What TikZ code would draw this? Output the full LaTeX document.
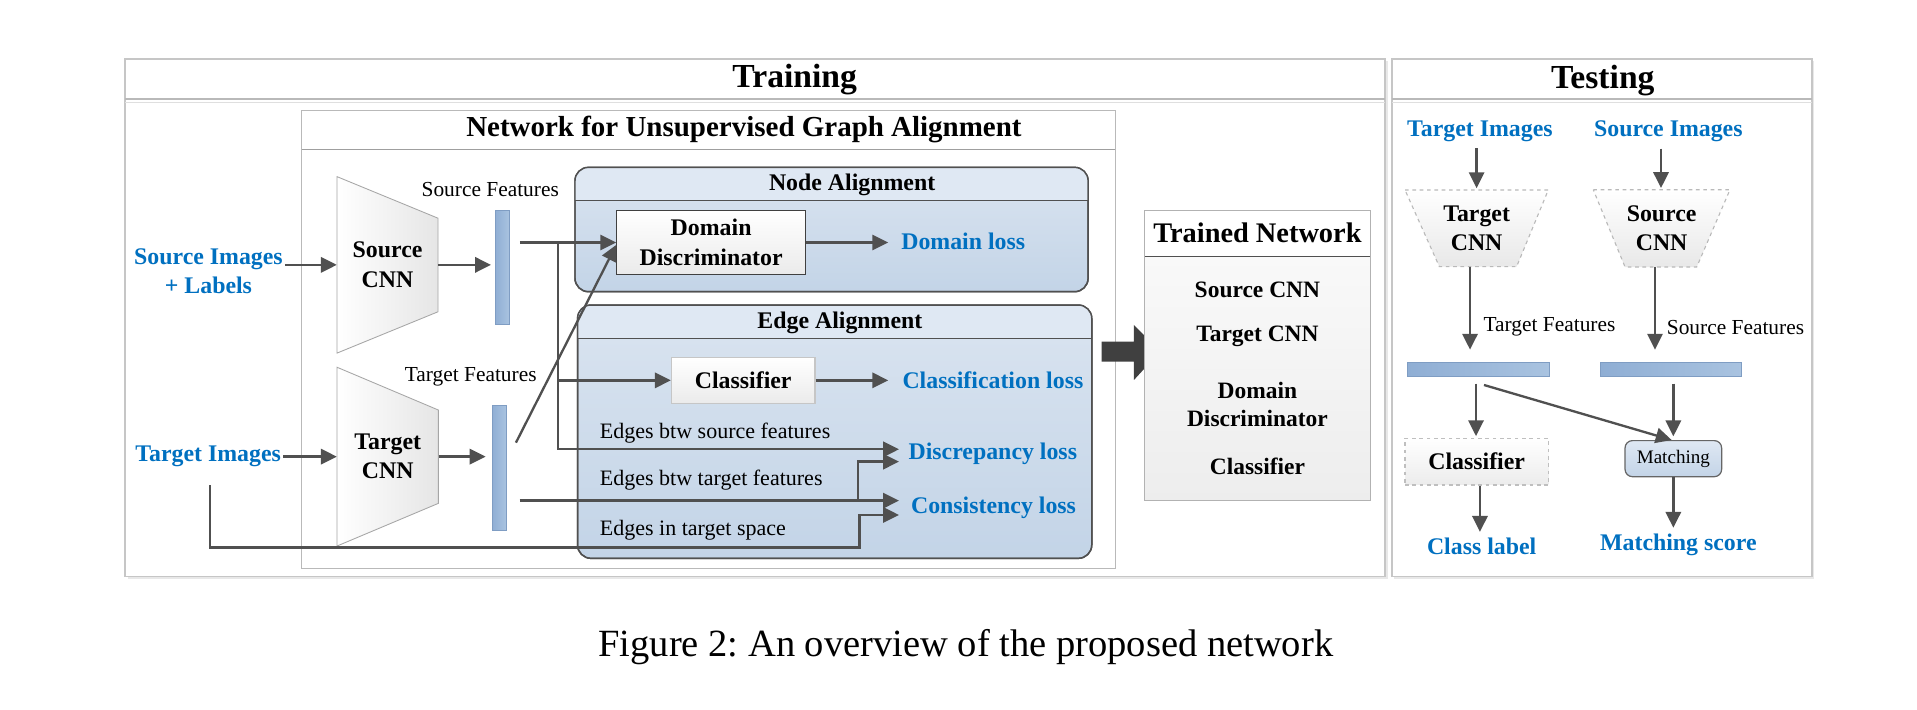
\documentclass[tikz,border=0pt]{standalone}
\usepackage{fontspec}
\setmainfont{Liberation Serif}
\usetikzlibrary{arrows.meta,calc}
\definecolor{lc}{HTML}{505050}
\definecolor{blu}{HTML}{0070C0}
\definecolor{barL}{HTML}{8FAED4}
\definecolor{barR}{HTML}{A9C3E0}
\definecolor{barB}{HTML}{7F9DC3}
\definecolor{panA}{HTML}{DAE4F0}
\definecolor{panB}{HTML}{C3D4E7}
\definecolor{panT}{HTML}{DFE8F3}
\tikzset{
  arr/.style={draw=lc, line width=1.9pt, -{Triangle[length=13pt,width=12.5pt]}},
  bf/.style={font=\fontsize{19.5}{24}\selectfont\bfseries, align=center, inner sep=0pt},
  bl/.style={bf, text=blu},
  rg/.style={font=\fontsize{17.5}{21}\selectfont, inner sep=0pt},
  eg/.style={font=\fontsize{18}{22}\selectfont, inner sep=0pt, anchor=west},
  ttl/.style={font=\fontsize{27.5}{32}\selectfont\bfseries, inner sep=0pt},
  outerbox/.style={draw=gray!45, line width=1.5pt, fill=white, inner sep=0pt},
  panel/.style={draw=lc, line width=1.2pt, rounded corners=11pt, top color=panA, bottom color=panB, inner sep=0pt},
  whbox/.style={top color=white, bottom color=gray!16, inner sep=0pt, line width=1pt},
  bar/.style={draw=barB, line width=0.6pt, left color=barL, right color=barR, inner sep=0pt},
  trap/.style={draw=gray!70, line width=0.7pt, left color=white, right color=gray!20},
  dtrap/.style={draw=gray!55, line width=0.9pt, dashed, top color=white, bottom color=gray!18},
  frm/.style={inner sep=0pt, draw=none},
}
\frenchspacing
\begin{document}
\begin{tikzpicture}[x=1pt,y=-1pt]
\useasboundingbox (0,0) rectangle (1568,580);
\fill[white] (0,0) rectangle (1568,580);

% ---------- outer panels ----------
\fill[gray!18] (104.5,50) rectangle (1135,473.5);
\node[outerbox, minimum width=1030.5pt, minimum height=423.5pt] (train) at (617.75,259.75) {};
\draw[gray!55, line width=1.5pt] (102.5,81) -- (1133,81);
\draw[gray!25, line width=1.2pt] (102.5,84) -- (1133,84);
\node[ttl] (traint) at (650,65) {Training};

\fill[gray!18] (1140.5,50) rectangle (1483.8,473.5);
\node[outerbox, minimum width=343.3pt, minimum height=423.5pt] (test) at (1310.15,259.75) {};
\draw[gray!55, line width=1.5pt] (1138.5,81) -- (1481.8,81);
\draw[gray!25, line width=1.2pt] (1138.5,84) -- (1481.8,84);
\node[ttl] (testt) at (1311,65.5) {Testing};

% ---------- network box ----------
\node[draw=gray!55, line width=0.8pt, fill=white, minimum width=665pt, minimum height=375pt, inner sep=0pt] (net) at (579.5,277.5) {};
\draw[gray!75, line width=1pt] (247,122) -- (912,122);
\node[font=\fontsize{23.7}{28}\selectfont\bfseries, inner sep=0pt] (nett) at (608.5,106) {Network for Unsupervised Graph Alignment};

% ---------- node alignment panel ----------
\node[panel, minimum width=419.7pt, minimum height=101.7pt] (na) at (680.15,187.75) {};
\begin{scope}
\clip[rounded corners=11pt] (470.3,136.9) rectangle (890,238.6);
\fill[panT] (470.3,136.9) rectangle (890,164.2);
\end{scope}
\draw[lc, line width=1.2pt, rounded corners=11pt] (470.3,136.9) rectangle (890,238.6);
\draw[lc, line width=1pt] (470.3,164.2) -- (890,164.2);
\node[bf] (nat) at (697,151.3) {Node Alignment};

% ---------- edge alignment panel ----------
\node[panel, minimum width=420.6pt, minimum height=207.2pt] (ea) at (682.7,353.1) {};
\begin{scope}
\clip[rounded corners=11pt] (472.4,249.5) rectangle (893,456.7);
\fill[panT] (472.4,249.5) rectangle (893,276.7);
\end{scope}
\draw[lc, line width=1.2pt, rounded corners=11pt] (472.4,249.5) rectangle (893,456.7);
\draw[lc, line width=1pt] (472.4,276.7) -- (893,276.7);
\node[bf] (eat) at (687,264) {Edge Alignment};

% ---------- CNN trapezoids (training) ----------
\path[trap] (275.7,144.5) -- (358.3,178.5) -- (358.3,255) -- (275.7,288.8) -- cycle;
\node[frm, bf, minimum width=82.6pt, minimum height=144.3pt] (scnn) at (317,216.65) {Source\\CNN};
\path[trap] (275.7,300.4) -- (358.6,335.4) -- (358.6,411.7) -- (275.7,446.6) -- cycle;
\node[frm, bf, minimum width=82.9pt, minimum height=146.2pt] (tcnn) at (317.15,373.5) {Target\\CNN};

% ---------- feature bars ----------
\node[bar, minimum width=11.7pt, minimum height=93pt] (sbar) at (410.75,218.75) {};
\node[bar, minimum width=11.4pt, minimum height=102.7pt] (tbar) at (408.2,382.65) {};
\node[rg] (sfl) at (401,155) {Source Features};
\node[rg] (tfl) at (385,308) {Target Features};

% ---------- inputs ----------
\node[bl] (simg) at (170.5,222) {Source Images\\+ Labels};
\node[bl] (timg) at (170.3,373.5) {Target Images};

% ---------- boxes ----------
\node[whbox, draw=black!75, minimum width=154.3pt, minimum height=52.1pt, bf] (dd) at (581.65,198.35) {Domain\\Discriminator};
\node[whbox, draw=gray!45, minimum width=117.4pt, minimum height=37.6pt, bf] (cls) at (607.9,311.1) {Classifier};

% ---------- losses ----------
\node[bl, anchor=west] (dloss) at (737,197.5) {Domain loss};
\node[bl, anchor=west] (closs) at (738,311) {Classification loss};
\node[bl, anchor=west] (disc) at (743,371) {Discrepancy loss};
\node[bl, anchor=west] (cons) at (745,415) {Consistency loss};

% ---------- edge labels ----------
\node[eg] (e1) at (490.5,354.4) {Edges btw source features};
\node[eg] (e2) at (490.5,392.6) {Edges btw target features};
\node[eg] (e3) at (490.5,433.5) {Edges in target space};

% ---------- connectors (training) ----------
\draw[arr, shorten <=1.5pt] (simg.east |- scnn.west) -- (scnn.west);
\draw[arr, shorten >=3pt] (scnn.east) -- (sbar.west |- scnn.east);
\draw[arr, shorten <=1.5pt] (timg.east |- tcnn.west) -- (tcnn.west);
\draw[arr, shorten >=5pt] (tcnn.east) -- (tbar.west |- tcnn.east);

\coordinate (sfo) at (425.3,198.35);
\coordinate (sbr) at (456.5,198.35);
\coordinate (d1) at (735.3,367.5);
\coordinate (d2) at (735.3,377.6);
\coordinate (c1) at (735.3,409.5);
\coordinate (c2) at (735.3,421.2);
\coordinate (tfo) at (422,362.1);
\coordinate (tfo2) at (425,409.5);
\coordinate (tbr) at (701.7,409.5);
\coordinate (tio) at (171.8,397);
\coordinate (tcorner) at (703,447.7);

\draw[arr] (sfo) -- (dd.west);
\draw[arr] (sbr) |- (cls.west);
\draw[arr] (sbr) |- (d1);
\draw[arr] (tfo) -- ([yshift=-2pt]dd.west);
\draw[arr] (tfo2) -- (c1);
\draw[arr] (tbr) |- (d2);
\draw[arr] (tio) |- (tcorner) |- (c2);
\draw[arr] (dd.east) -- ([xshift=-10.5pt]dloss.west |- dd.east);
\draw[arr] (cls.east) -- ([xshift=-11.5pt]closs.west |- cls.east);

% ---------- big arrow ----------
\path[fill=black!75] (901,279.5) -- (927.5,279.5) -- (927.5,265.8) -- (948.8,287.6) -- (927.5,310.8) -- (927.5,295.8) -- (901,295.8) -- cycle;

% ---------- trained network ----------
\node[draw=gray!60, line width=0.8pt, top color=gray!3, bottom color=gray!14, minimum width=184.1pt, minimum height=237.2pt, inner sep=0pt] (trained) at (1028.55,290.4) {};
\fill[white] (936.9,172.2) rectangle (1120.2,210);
\draw[lc, line width=0.8pt] (936.5,210) -- (1120.6,210);
\node[font=\fontsize{23.2}{27}\selectfont\bfseries, inner sep=0pt] (trt) at (1028.5,190.8) {Trained Network};
\node[bf, font=\fontsize{19.2}{23.2}\selectfont\bfseries] (tr1) at (1028.5,236.7) {Source CNN};
\node[bf, font=\fontsize{19.2}{23.2}\selectfont\bfseries] (tr2) at (1028.5,275.4) {Target CNN};
\node[bf, font=\fontsize{19.2}{23.2}\selectfont\bfseries] (tr3) at (1028.5,330.6) {Domain\\Discriminator};
\node[bf, font=\fontsize{19.2}{23.2}\selectfont\bfseries] (tr4) at (1028.5,381.7) {Classifier};

% ---------- testing ----------
\node[bl] (timg2) at (1210.5,107.7) {Target Images};
\node[bl] (simg2) at (1364.6,107.7) {Source Images};

\path[dtrap] (1149.2,155.4) -- (1266.4,155.4) -- (1240.5,218.1) -- (1177.3,218.1) -- cycle;
\node[frm, bf, minimum width=117.2pt, minimum height=62.7pt] (tcnn2) at (1207.8,186.75) {Target\\CNN};
\path[dtrap] (1303.2,155.2) -- (1415,155.2) -- (1387.8,218.4) -- (1329.2,218.4) -- cycle;
\node[frm, bf, minimum width=111.8pt, minimum height=63.2pt] (scnn2) at (1359.1,186.8) {Source\\CNN};

\node[bar, minimum width=116.1pt, minimum height=11.5pt] (tbar2) at (1209.15,302.35) {};
\node[bar, minimum width=115.8pt, minimum height=11.5pt] (sbar2) at (1366.6,302.35) {};
\node[rg, anchor=west] (tfl2) at (1213.3,267.2) {Target Features};
\node[rg, anchor=west] (sfl2) at (1363.2,267.5) {Source Features};

\node[dashed, draw=gray!50, line width=0.9pt, top color=white, bottom color=gray!15, minimum width=117.2pt, minimum height=38.2pt, bf] (cls2) at (1207.8,377.6) {Classifier};
\node[draw=gray!80!black, line width=1pt, rounded corners=6pt, top color=panT, bottom color=panB, minimum width=79pt, minimum height=29.5pt, inner sep=0pt, font=\fontsize{15.6}{18}\selectfont] (match) at (1368.7,375.15) {Matching};

\node[bl] (clabel) at (1211.9,447.1) {Class label};
\node[bl] (mscore) at (1372.8,445.8) {Matching score};

\coordinate (tb2o) at (1213.8,314.9);
\draw[arr, shorten <=5pt, shorten >=1.3pt] (tcnn2.north |- timg2.south) -- (tcnn2.north);
\draw[arr, shorten <=5pt, shorten >=1.2pt] ([xshift=-0.5pt]scnn2.north |- simg2.south) -- ([xshift=-0.5pt]scnn2.north);
\draw[arr, shorten >=10.3pt] ([xshift=-5.4pt]tcnn2.south) -- ([xshift=-5.4pt]tcnn2.south |- tbar2.north);
\draw[arr, shorten >=10.3pt] ([xshift=-5.4pt]scnn2.south) -- ([xshift=-5.4pt]scnn2.south |- sbar2.north);
\draw[arr, shorten <=5.4pt, shorten >=1.3pt] ([xshift=-0.5pt]cls2.north |- tbar2.south) -- ([xshift=-0.5pt]cls2.north);
\draw[arr] (tb2o) -- ([xshift=-1.4pt]match.north);
\draw[arr, shorten <=5.4pt, shorten >=3pt] (match.north |- sbar2.south) -- (match.north);
\draw[arr, shorten >=5pt] ([xshift=2.7pt]cls2.south) -- ([xshift=2.7pt]cls2.south |- clabel.north);
\draw[arr, shorten >=5pt] (match.south) -- (match.south |- mscore.north);

% ---------- caption ----------
\node[font=\fontsize{31.5}{36}\selectfont, inner sep=0pt] (cap) at (790,529) {Figure 2: An overview of the proposed network};
\end{tikzpicture}
\end{document}
